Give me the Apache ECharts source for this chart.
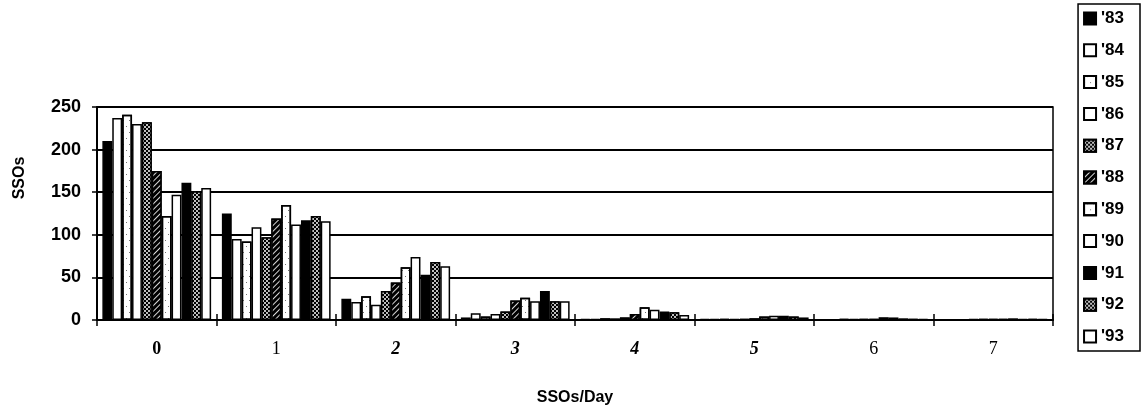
<!DOCTYPE html>
<html>
<head>
<meta charset="utf-8">
<script src="https://cdn.jsdelivr.net/npm/echarts@6/dist/echarts.min.js"></script>
<style>
  html, body { margin: 0; padding: 0; background: #fff; }
  #container { width: 1141px; height: 411px; }
</style>
</head>
<body>
<div id="container"></div>
<script>
// SSOs per day, one series per year
var days = ['0', '1', '2', '3', '4', '5', '6', '7'];
var years = ["'83", "'84", "'85", "'86", "'87", "'88", "'89", "'90", "'91", "'92", "'93"];
// label style per category, as printed
var dayStyle = ['b', 'n', 'bi', 'bi', 'bi', 'bi', 'n', 'n'];

var y83 = [210, 125, 25, 3, 1, 1, 0, 0];
var y84 = [237, 95, 21, 8, 1, 1, 0, 0];
var y85 = [241, 92, 28, 4, 2, 1, 1, 0];
var y86 = [230, 109, 18, 7, 2, 1, 1, 1];
var y87 = [232, 97, 34, 10, 3, 1, 1, 1];
var y88 = [175, 119, 44, 23, 7, 2, 1, 1];
var y89 = [122, 135, 62, 26, 15, 4, 3, 1];
var y90 = [147, 112, 74, 22, 12, 5, 3, 2];
var y91 = [161, 117, 53, 34, 10, 5, 2, 1];
var y92 = [151, 122, 68, 22, 9, 4, 1, 1];
var y93 = [155, 116, 63, 22, 6, 3, 1, 1];

var values = [y83, y84, y85, y86, y87, y88, y89, y90, y91, y92, y93];

var dots = {
    symbol: 'rect', symbolSize: 1, color: 'rgba(0,0,0,0.55)',
    dashArrayX: [[1, 5], [0, 3, 1, 2]], dashArrayY: [1, 5], rotation: 0
};
var checks = {
    symbol: 'circle', symbolSize: 1, color: '#fff',
    dashArrayX: [[2, 2], [0, 2, 2, 0]], dashArrayY: [2, 0], rotation: 0
};
var hatch = {
    symbol: 'rect', symbolSize: 1, color: 'rgba(255,255,255,0.85)',
    dashArrayX: [1, 0], dashArrayY: [1, 3], rotation: -Math.PI / 4
};

// fill, decal for each year
var looks = [
    ['#000', null],
    ['#fff', null],
    ['#fff', dots],
    ['#fff', null],
    ['#000', checks],
    ['#000', hatch],
    ['#fff', dots],
    ['#fff', null],
    ['#000', null],
    ['#000', checks],
    ['#fff', null]
];

var series = years.map(function (name, i) {
    var st = {
        color: looks[i][0],
        borderColor: '#000',
        borderWidth: 1.5
    };
    if (looks[i][1]) st.decal = looks[i][1];
    return {
        name: name,
        type: 'bar',
        barGap: '0%',
        barCategoryGap: '9%',
        itemStyle: st,
        emphasis: { disabled: true },
        data: values[i]
    };
});

var myChart = echarts.init(document.getElementById('container'));

var option = {
    animation: false,
    grid: {
        left: 97,
        right: 88,
        top: 107,
        bottom: 84,
        show: true,
        borderColor: '#000',
        borderWidth: 1.5
    },
    legend: {
        orient: 'vertical',
        right: 1,
        top: 4,
        padding: [6, 16, 6, 5],
        itemWidth: 12,
        itemHeight: 12,
        itemGap: 14.8,
        borderColor: '#000',
        borderWidth: 1.5,
        selectedMode: false,
        icon: 'rect',
        itemStyle: { borderColor: '#000', borderWidth: 2 },
        textStyle: {
            fontFamily: 'Liberation Sans',
            fontWeight: 'bold',
            fontSize: 17,
            color: '#000'
        },
        data: years
    },
    xAxis: [
        {
            type: 'category',
            data: days,
            name: 'SSOs/Day',
            nameLocation: 'middle',
            nameGap: 70,
            nameTextStyle: {
                fontFamily: 'Liberation Sans',
                fontWeight: 'bold',
                fontSize: 16,
                color: '#000'
            },
            axisLine: { lineStyle: { color: '#000', width: 2 } },
            axisTick: { show: true, length: 6, lineStyle: { color: '#000', width: 1.5 } },
            axisLabel: {
                margin: 20,
                formatter: function (v, i) {
                    return '{' + dayStyle[i] + '|' + v + '}';
                },
                rich: {
                    b: { fontFamily: 'Liberation Serif', fontWeight: 'bold', fontSize: 18, color: '#000' },
                    bi: { fontFamily: 'Liberation Serif', fontWeight: 'bold', fontStyle: 'italic', fontSize: 18, color: '#000' },
                    n: { fontFamily: 'Liberation Serif', fontSize: 18, color: '#000' }
                }
            }
        },
        {
            type: 'category',
            data: days,
            position: 'bottom',
            axisLine: { show: false },
            axisTick: { show: true, inside: true, length: 6, lineStyle: { color: '#000', width: 1.5 } },
            axisLabel: { show: false }
        }
    ],
    yAxis: [
        {
            type: 'value',
            min: 0,
            max: 250,
            interval: 50,
            axisLine: { show: true, lineStyle: { color: '#000', width: 2 } },
            axisTick: { show: true, length: 5, lineStyle: { color: '#000', width: 1.5 } },
            splitLine: { show: true, lineStyle: { color: '#000', width: 2 } },
            axisLabel: {
                margin: 16,
                fontFamily: 'Liberation Sans',
                fontWeight: 'bold',
                fontSize: 18,
                color: '#000'
            }
        },
        {
            type: 'value',
            min: 0,
            max: 250,
            interval: 50,
            position: 'left',
            axisLine: { show: false },
            axisTick: { show: true, inside: true, length: 5, lineStyle: { color: '#000', width: 1.5 } },
            splitLine: { show: false },
            axisLabel: { show: false }
        }
    ],
    graphic: [
        {
            type: 'text',
            x: 20,
            y: 178,
            rotation: Math.PI / 2,
            style: {
                text: 'SSOs',
                fontFamily: 'Liberation Sans',
                fontWeight: 'bold',
                fontSize: 16,
                fill: '#000',
                align: 'center',
                verticalAlign: 'middle'
            }
        }
    ],
    series: series
};
myChart.setOption(option);
</script>
</body>
</html>
